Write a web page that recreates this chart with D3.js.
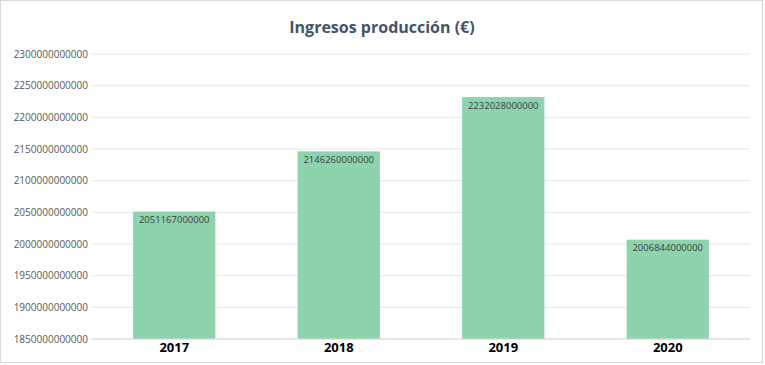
<!DOCTYPE html>
<html>
<head>
<meta charset="utf-8">
<script src="https://cdn.jsdelivr.net/npm/d3@7"></script>
<style>
  html, body { margin: 0; padding: 0; background: #fff; }
  svg { display: block; }
</style>
</head>
<body>
<div id="chart"></div>
<script>
const years = ['2017', '2018', '2019', '2020']
const ingresos = [2051167000000, 2146260000000, 2232028000000, 2006844000000]
const yTicks = [1850e9, 1900e9, 1950e9, 2000e9, 2050e9, 2100e9, 2150e9, 2200e9, 2250e9, 2300e9]

const W = 765
const H = 365
const margin = { top: 54, right: 15, bottom: 26, left: 92 }
const FONT = '"Open Sans", Calibri, sans-serif'

const svg = d3.select('#chart').append('svg').attr('width', W).attr('height', H)

// outer frame like the spreadsheet chart area
svg.append('rect')
  .attr('x', 0.5).attr('y', 0.5)
  .attr('width', W - 3).attr('height', H - 3)
  .attr('fill', '#fff').attr('stroke', '#d9d9d9')

const x = d3.scaleBand().domain(years).range([margin.left, W - margin.right])
  .paddingInner(0.5).paddingOuter(0.25)
const y = d3.scaleLinear().domain([1850e9, 2300e9]).range([H - margin.bottom, margin.top])

// gridlines
svg.append('g')
  .selectAll('line')
  .data(yTicks)
  .join('line')
  .attr('x1', margin.left).attr('x2', W - margin.right)
  .attr('y1', d => y(d)).attr('y2', d => y(d))
  .attr('stroke', '#e6e6e6').attr('stroke-width', 1)

// y axis labels
const yAxis = svg.append('g')
  .attr('transform', `translate(${margin.left},0)`)
  .call(d3.axisLeft(y).tickValues(yTicks).tickFormat(d => d3.format('d')(d)).tickSize(0).tickPadding(4))
yAxis.select('.domain').remove()
yAxis.selectAll('text')
  .attr('fill', '#595959')
  .style('font-family', FONT)
  .style('font-size', '10px')

// bars
svg.append('g')
  .selectAll('rect')
  .data(years)
  .join('rect')
  .attr('x', d => x(d))
  .attr('width', x.bandwidth())
  .attr('y', (d, i) => y(ingresos[i]))
  .attr('height', (d, i) => y(1850e9) - y(ingresos[i]))
  .attr('fill', '#8dd4ae')

// value labels inside bar tops
svg.append('g')
  .selectAll('text')
  .data(years)
  .join('text')
  .attr('x', d => x(d) + x.bandwidth() / 2)
  .attr('y', (d, i) => y(ingresos[i]) + 11.5)
  .attr('text-anchor', 'middle')
  .attr('fill', '#404040')
  .style('font-family', FONT)
  .style('font-size', '9.5px')
  .text((d, i) => d3.format('d')(ingresos[i]))

// baseline
svg.append('line')
  .attr('x1', margin.left).attr('x2', W - margin.right)
  .attr('y1', y(1850e9)).attr('y2', y(1850e9))
  .attr('stroke', '#d9d9d9')

// x axis labels
const xAxis = svg.append('g')
  .attr('transform', `translate(0,${H - margin.bottom})`)
  .call(d3.axisBottom(x).tickSize(0).tickPadding(4))
xAxis.select('.domain').remove()
xAxis.selectAll('text')
  .attr('fill', '#000')
  .style('font-family', FONT)
  .style('font-size', '13px')
  .style('font-weight', 'bold')

// title
svg.append('text')
  .attr('x', 382)
  .attr('y', 33)
  .attr('text-anchor', 'middle')
  .attr('fill', '#44546a')
  .style('font-family', FONT)
  .style('font-size', '16px')
  .style('font-weight', 'bold')
  .text('Ingresos producción (€)')
</script>
</body>
</html>
